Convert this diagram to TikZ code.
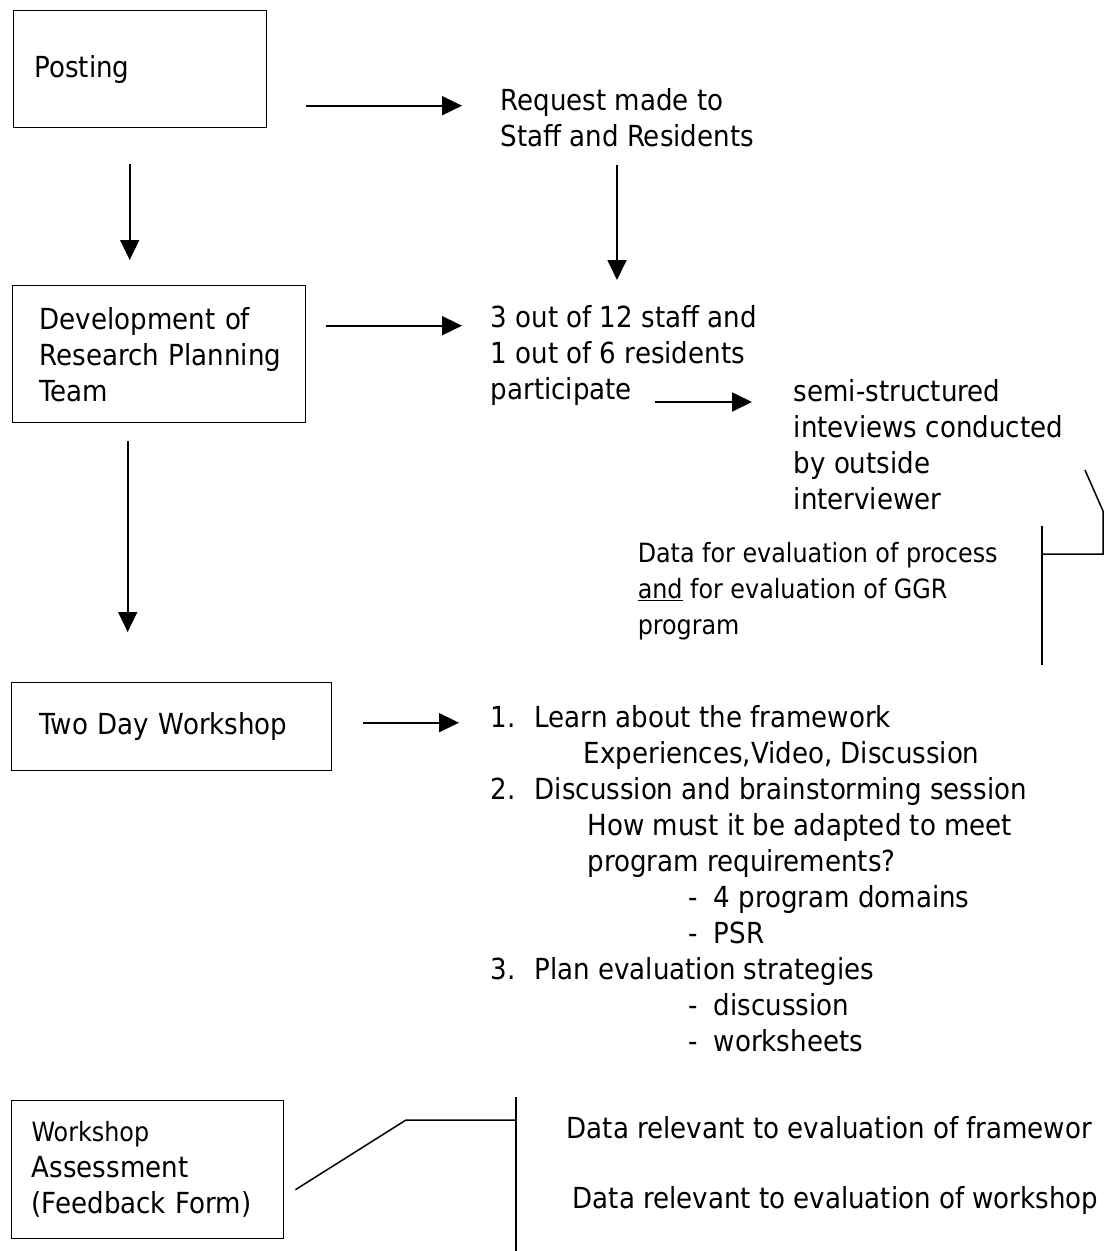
\documentclass[tikz,border=0pt]{standalone}
\usepackage{fontspec}
\setmainfont{DejaVu Sans Condensed}
\usetikzlibrary{arrows.meta,calc}

\begin{document}
\begin{tikzpicture}[x=1pt, y=-1pt, line width=1.5pt,
	every node/.style={font=\fontsize{29}{36}\selectfont},
	box/.style={draw, line width=1.4pt, anchor=north west, align=left, inner ysep=0pt, inner xsep=#1},
	txt/.style={anchor=west, align=left, inner sep=0pt},
	arr/.style={line width=1.8pt, -{Triangle[length=20pt,width=19pt]}}]
	\useasboundingbox (0,0) rectangle (1110,1251);
	% boxes on the left
	\node[box=21pt, text width=211pt, minimum height=117pt] (posting) at (13,10) {Posting};
	\node[box=27pt, text width=239pt, minimum height=137pt] (dev) at (12,285) {\mbox{Development of}\\\mbox{Research Planning}\\Team};
	\node[box=28pt, text width=264pt, minimum height=88pt] (twoday) at (11,682) {\mbox{Two Day Workshop}};
	\node[box=20pt, text width=232pt, minimum height=138pt] (assess) at (11,1100) {{\fontsize{26.5}{36}\selectfont Workshop}\\Assessment\\\mbox{(Feedback Form)}};
	% texts on the right
	\node[txt] (request) at (500,118) {Request made to\\Staff and Residents};
	\node[txt] (staff) at (490,355) {3 out of 12 staff and\\1 out of 6 residents\\participate};
	\node[txt] (interv) at (793,445) {semi-structured\\inteviews conducted\\by outside\\interviewer};
	\node[txt, font=\fontsize{26.5}{36}\selectfont] (dataeval) at (637,591) {Data for evaluation of process\\\underline{and} for evaluation of GGR\\program};
	\node[txt] (steps) at (490,879) {\makebox[44pt][l]{1.}Learn about the framework\\
		\hspace*{93pt}Experiences,Video, Discussion\\
		\makebox[44pt][l]{2.}Discussion and brainstorming session\\
		\hspace*{97pt}How must it be adapted to meet\\
		\hspace*{97pt}program requirements?\\
		\hspace*{198pt}\makebox[25pt][l]{-}4 program domains\\
		\hspace*{198pt}\makebox[25pt][l]{-}PSR\\
		\makebox[44pt][l]{3.}Plan evaluation strategies\\
		\hspace*{198pt}\makebox[25pt][l]{-}discussion\\
		\hspace*{198pt}\makebox[25pt][l]{-}worksheets};
	\node[txt] (dataframe) at (566,1128) {Data relevant to evaluation of framewor};
	\node[txt] (dataws) at (572,1200) {Data relevant to evaluation of workshop};
	% arrows: start points and where they end
	\coordinate (s1) at ($(posting.east)+(39,36.5)$);
	\coordinate (e1) at ($(request.west)+(-38,0)$);
	\coordinate (s2) at ($(posting.south)+(-10.5,36)$);
	\coordinate (e2) at ($(dev.north)+(0,-25)$);
	\coordinate (s3) at ($(request.west)+(117,47)$);
	\coordinate (e3) at ($(staff.west)+(0,-75)$);
	\coordinate (s4) at ($(dev.east)+(20,-28.5)$);
	\coordinate (e4) at ($(staff.west)+(-28,0)$);
	\coordinate (s5) at ($(staff.west)+(165,47)$);
	\coordinate (e5) at ($(interv.west)+(-41,0)$);
	\coordinate (s6) at ($(dev.south)+(-31.5,18)$);
	\coordinate (e6) at ($(twoday.north)+(0,-50)$);
	\coordinate (s7) at ($(twoday.east)+(31,-4)$);
	\coordinate (e7) at ($(steps.west)+(-31,0)$);
	\draw[arr] (s1) -- (s1 -| e1);
	\draw[arr] (s2) -- (s2 |- e2);
	\draw[arr] (s3) -- (s3 |- e3);
	\draw[arr] (s4) -- (s4 -| e4);
	\draw[arr] (s5) -- (s5 -| e5);
	\draw[arr] (s6) -- (s6 |- e6);
	\draw[arr] (s7) -- (s7 -| e7);
	% brackets
	\draw (1085,470) -- (1103,511) -- (1103,554) -- (1042,554);
	\draw (1042,526) -- (1042,665);
	\draw ($(assess.east)+(11,20)$) -- (406,1120) -- (516,1120);
	\draw (516,1097) -- (516,1251);
\end{tikzpicture}
\end{document}
